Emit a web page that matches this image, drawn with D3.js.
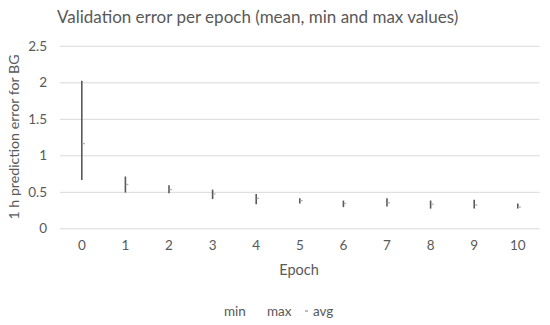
<!DOCTYPE html>
<html><head><meta charset="utf-8">
<script src="https://cdn.jsdelivr.net/npm/d3@7"></script>
<style>body{margin:0;background:#fff}svg{display:block;font-family:Lato,"Liberation Sans",sans-serif}</style>
</head><body><svg id="c" width="550" height="325"></svg>
<script>
const epochs = ["0","1","2","3","4","5","6","7","8","9","10"];
const minVals = [0.66,0.49,0.48,0.40,0.33,0.34,0.29,0.30,0.27,0.27,0.27];
const maxVals = [2.02,0.71,0.59,0.53,0.47,0.41,0.38,0.41,0.38,0.39,0.34];
const avgVals = [1.16,0.60,0.53,0.47,0.41,0.38,0.34,0.35,0.33,0.32,0.29];
const yTicks = [0,0.5,1,1.5,2,2.5];
const yTickLabels = ["0","0.5","1","1.5","2","2.5"];

const svg = d3.select("#c");
const x = d3.scaleBand().domain(epochs).range([60,539.6]);
const y = d3.scaleLinear().domain([0,2.5]).range([228.3,45.8]);

svg.append("text").attr("x",57).attr("y",23).attr("font-size",17).attr("fill","#595959")
  .text("Validation error per epoch (mean, min and max values)");

const yAxis = d3.axisLeft(y).tickValues(yTicks).tickFormat((d,i)=>yTickLabels[i]).tickSize(-(539.6-60)).tickPadding(13);
const gy = svg.append("g").attr("transform","translate(60,0)").call(yAxis);
gy.select(".domain").remove();
gy.selectAll("line").attr("stroke","#d9d9d9").attr("stroke-width",1);
gy.selectAll("text").attr("font-size",13.5).attr("fill","#595959").attr("font-family","Lato,'Liberation Sans',sans-serif");

const xAxis = d3.axisBottom(x).tickSize(0).tickPadding(12);
const gx = svg.append("g").attr("transform","translate(0,228.3)").call(xAxis);
gx.select(".domain").remove();
gx.selectAll("text").attr("font-size",13.5).attr("fill","#595959").attr("font-family","Lato,'Liberation Sans',sans-serif");

const data = epochs.map((e,i)=>({e,min:minVals[i],max:maxVals[i],avg:avgVals[i]}));
const cx = d => x(d.e)+x.bandwidth()/2;
svg.append("g").selectAll("line").data(data).join("line")
  .attr("x1",cx).attr("x2",cx).attr("y1",d=>y(d.min)).attr("y2",d=>y(d.max))
  .attr("stroke","#595959").attr("stroke-width",1.6);
svg.append("g").selectAll("line").data(data).join("line")
  .attr("x1",d=>cx(d)+0.5).attr("x2",d=>cx(d)+3).attr("y1",d=>y(d.avg)).attr("y2",d=>y(d.avg))
  .attr("stroke","#b0b0b0").attr("stroke-width",1.3);

svg.append("text").attr("x",299).attr("y",275).attr("text-anchor","middle").attr("font-size",14.5).attr("fill","#595959").text("Epoch");
svg.append("text").attr("transform","translate(19,137) rotate(-90)").attr("text-anchor","middle").attr("font-size",14.2).attr("fill","#595959").text("1 h prediction error for BG");

const leg = svg.append("g").attr("font-size",13.5).attr("fill","#595959");
leg.append("text").attr("x",224).attr("y",316).text("min");
leg.append("text").attr("x",267).attr("y",316).text("max");
leg.append("line").attr("x1",305).attr("x2",308).attr("y1",311).attr("y2",311).attr("stroke","#a6a6a6").attr("stroke-width",1.5);
leg.append("text").attr("x",313).attr("y",316).text("avg");
</script></body></html>
